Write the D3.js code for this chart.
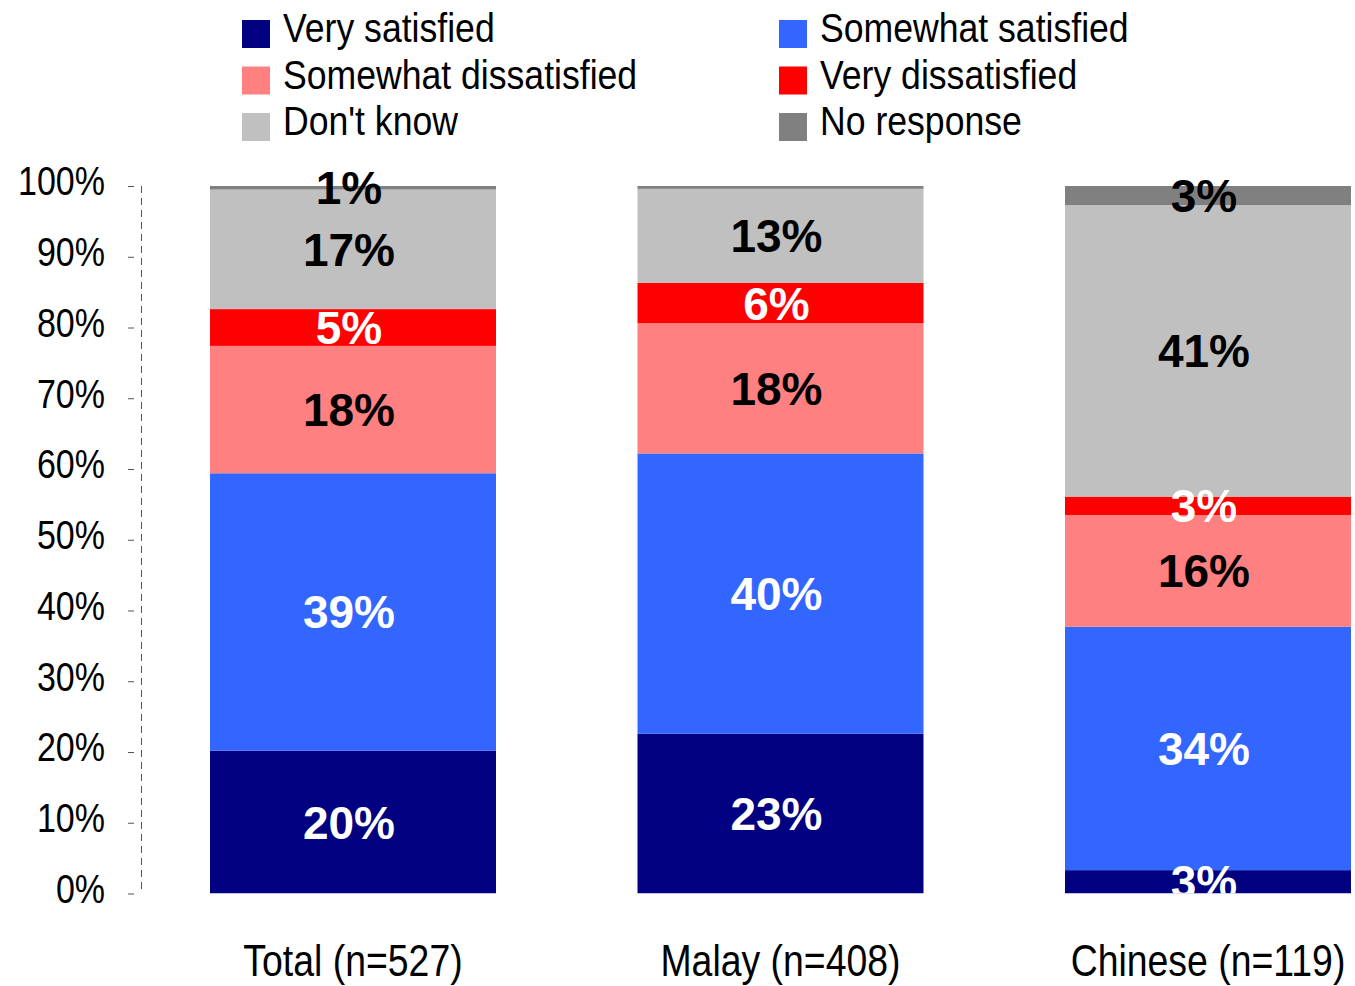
<!DOCTYPE html>
<html>
<head>
<meta charset="utf-8">
<script src="https://cdn.jsdelivr.net/npm/d3@7"></script>
<style>
    body { margin: 0; background: #fff; }
    svg { display: block; }
</style>
</head>
<body>
<div id="chart"></div>
<script>
// categories and series (values in % of each group)
const groups = ['Total (n=527)', 'Malay (n=408)', 'Chinese (n=119)'];
const seriesNames = ['Very satisfied', 'Somewhat satisfied', 'Somewhat dissatisfied',
    'Very dissatisfied', "Don't know", 'No response'];
const verySatisfied = [20.2, 22.6, 3.3];
const somewhatSatisfied = [39.2, 39.6, 34.4];
const somewhatDissatisfied = [18.0, 18.4, 15.8];
const veryDissatisfied = [5.2, 5.7, 2.6];
const dontKnow = [16.9, 13.3, 41.2];
const noResponse = [0.5, 0.4, 2.7];
const yTicks = [0, 10, 20, 30, 40, 50, 60, 70, 80, 90, 100];

document.addEventListener('DOMContentLoaded', function () {
    const width = 1355, height = 986;
    const colors = ['#000080', '#3366ff', '#ff8080', '#ff0000', '#c0c0c0', '#808080'];
    const labelColors = ['#fff', '#fff', '#000', '#fff', '#000', '#000'];
    const seriesValues = [verySatisfied, somewhatSatisfied, somewhatDissatisfied,
        veryDissatisfied, dontKnow, noResponse];
    const narrow = 0.85; // no narrow font installed, squeeze regular sans instead
    const sans = '"Liberation Sans", Arial, sans-serif';

    const rows = groups.map((g, i) => {
        const row = { group: g };
        seriesNames.forEach((s, j) => { row[s] = seriesValues[j][i]; });
        return row;
    });

    const stacked = d3.stack().keys(seriesNames)(rows);

    const svg = d3.select('#chart').append('svg')
        .attr('width', width)
        .attr('height', height);

    const x = d3.scaleBand()
        .domain(groups)
        .range([139.25, 1421.75])
        .paddingInner(0.331)
        .paddingOuter(0.1655);

    const y = d3.scaleLinear()
        .domain([0, 100])
        .range([893.5, 186]);

    // clip so that labels near the floor get cut at the baseline
    svg.append('clipPath').attr('id', 'plotClip')
        .append('rect')
        .attr('x', 0).attr('y', 140)
        .attr('width', width).attr('height', y(0) - 140);

    // y axis: dashed line with small tick dashes
    svg.append('line')
        .attr('x1', 141.5).attr('x2', 141.5)
        .attr('y1', y(100)).attr('y2', y(0))
        .attr('stroke', '#555')
        .attr('stroke-width', 1)
        .attr('stroke-dasharray', '7,5');

    const yAxis = svg.append('g')
        .attr('transform', 'translate(134,0)')
        .call(d3.axisLeft(y).tickValues(yTicks).tickSize(6).tickFormat(d => d + '%'));
    yAxis.select('.domain').remove();
    yAxis.selectAll('.tick line').attr('stroke', '#555');
    yAxis.selectAll('.tick text')
        .attr('x', -29 / narrow)
        .attr('y', -4)
        .attr('transform', `scale(${narrow},1)`)
        .attr('fill', '#000')
        .style('font-family', sans)
        .style('font-size', '40px');

    const plot = svg.append('g').attr('clip-path', 'url(#plotClip)');

    const layer = plot.selectAll('.layer')
        .data(stacked)
        .enter().append('g')
        .attr('class', 'layer')
        .attr('fill', (d, i) => colors[i]);

    layer.selectAll('rect')
        .data(d => d)
        .enter().append('rect')
        .attr('x', d => x(d.data.group))
        .attr('width', x.bandwidth())
        .attr('y', d => y(d[1]))
        .attr('height', d => y(d[0]) - y(d[1]));

    // value labels
    stacked.forEach((s, i) => {
        plot.selectAll('.lbl' + i)
            .data(s.filter(d => d[1] - d[0] >= 0.5))
            .enter().append('text')
            .attr('class', 'lbl' + i)
            .attr('x', d => x(d.data.group) + x.bandwidth() / 2 - 4)
            .attr('y', d => y((d[0] + d[1]) / 2))
            .attr('dy', '0.36em')
            .attr('text-anchor', 'middle')
            .attr('fill', labelColors[i])
            .style('font-family', sans)
            .style('font-weight', 'bold')
            .style('font-size', '46px')
            .text(d => Math.round(d[1] - d[0]) + '%');
    });

    // category labels
    svg.selectAll('.cat')
        .data(groups)
        .enter().append('text')
        .attr('class', 'cat')
        .attr('transform', d => `translate(${x(d) + x.bandwidth() / 2},976) scale(${narrow},1)`)
        .attr('text-anchor', 'middle')
        .style('font-family', sans)
        .style('font-size', '44px')
        .text(d => d);

    // legend, two columns
    const legend = svg.selectAll('.legend')
        .data(seriesNames)
        .enter().append('g')
        .attr('class', 'legend')
        .attr('transform', (d, i) => `translate(${i % 2 === 0 ? 242 : 779},${20 + Math.floor(i / 2) * 46.5})`);

    legend.append('rect')
        .attr('width', 28)
        .attr('height', 28)
        .attr('fill', (d, i) => colors[i]);

    legend.append('text')
        .attr('transform', 'translate(41,22) scale(0.89,1)')
        .style('font-family', sans)
        .style('font-size', '40px')
        .text(d => d);
});
</script>
</body>
</html>
